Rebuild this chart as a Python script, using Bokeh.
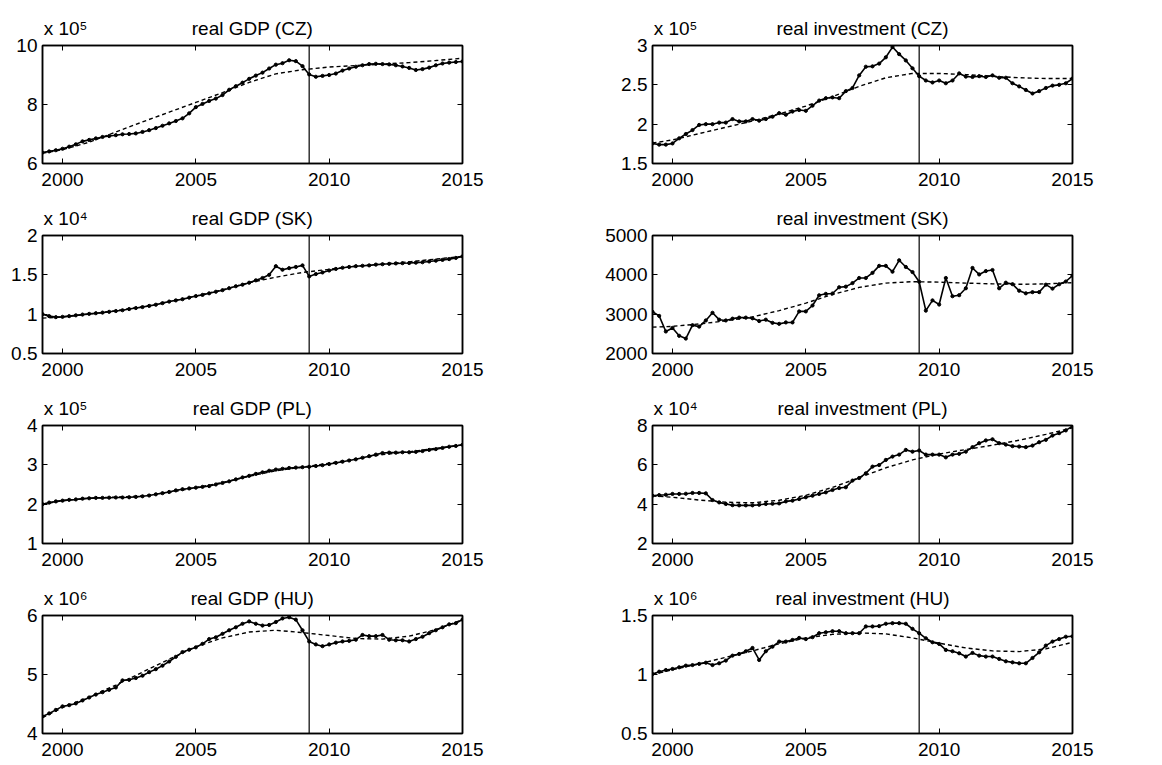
from bokeh.plotting import figure
from bokeh.layouts import column, row
from bokeh.models import (Span, LinearAxis, FixedTicker, Range1d,
                          CustomJSTickFormatter)
from bokeh.embed import file_html
from bokeh.resources import INLINE

FONT = "Liberation Sans"

# quarterly dates 1999Q2 .. 2015Q1
quarters = [1999.25 + 0.25 * i for i in range(64)]
# dates at which the dashed trend lines are read
trend_years = [1999.25, 2000, 2001, 2002, 2003, 2004, 2005, 2006, 2007, 2008,
               2009, 2010, 2011, 2012, 2013, 2014, 2015]
x_ticks = [2000, 2005, 2010, 2015]
break_date = 2009.25

titles = ["real GDP (CZ)", "real investment (CZ)",
          "real GDP (SK)", "real investment (SK)",
          "real GDP (PL)", "real investment (PL)",
          "real GDP (HU)", "real investment (HU)"]

# values in the displayed units (multiplied by 10^exponent)
gdp_cz = [6.37, 6.41, 6.45,
          6.50, 6.57, 6.65, 6.75,
          6.80, 6.85, 6.90, 6.93,
          6.96, 6.99, 7.00, 7.02,
          7.07, 7.13, 7.20, 7.28,
          7.36, 7.44, 7.53, 7.70,
          7.91, 8.02, 8.12, 8.20,
          8.32, 8.50, 8.62, 8.74,
          8.87, 8.98, 9.08, 9.22,
          9.35, 9.40, 9.50, 9.47,
          9.30, 9.02, 8.94, 8.97,
          9.00, 9.05, 9.15, 9.22,
          9.28, 9.33, 9.37, 9.38,
          9.37, 9.36, 9.33, 9.29,
          9.24, 9.17, 9.20, 9.25,
          9.33, 9.39, 9.42, 9.44,
          9.46]
gdp_cz_trend = [6.35, 6.47, 6.72, 7.07, 7.41, 7.74, 8.07, 8.40, 8.75, 9.04,
                9.18, 9.27, 9.32, 9.37, 9.42, 9.49, 9.57]

inv_cz = [1.755, 1.74, 1.74,
          1.755, 1.82, 1.875, 1.925,
          1.99, 2.0, 2.0, 2.02,
          2.02, 2.065, 2.035, 2.035,
          2.065, 2.045, 2.065, 2.095,
          2.14, 2.12, 2.16, 2.18,
          2.17, 2.235, 2.3, 2.33,
          2.34, 2.33, 2.42, 2.46,
          2.62, 2.73, 2.735, 2.77,
          2.85, 2.98, 2.89, 2.81,
          2.71, 2.61, 2.555, 2.53,
          2.555, 2.52, 2.555, 2.645,
          2.605, 2.6, 2.61, 2.6,
          2.62, 2.59, 2.59, 2.52,
          2.48, 2.435, 2.39, 2.42,
          2.46, 2.49, 2.5, 2.52,
          2.58]
inv_cz_trend = [1.76, 1.80, 1.88, 1.96, 2.04, 2.13, 2.23, 2.35, 2.48, 2.59,
                2.645, 2.645, 2.63, 2.61, 2.59, 2.58, 2.58]

gdp_sk = [1.0, 0.975, 0.962,
          0.966, 0.975, 0.985, 0.995,
          1.004, 1.012, 1.02, 1.03,
          1.04, 1.05, 1.065, 1.078,
          1.09, 1.105, 1.12, 1.14,
          1.16, 1.175, 1.19, 1.21,
          1.23, 1.245, 1.265, 1.285,
          1.305, 1.33, 1.355, 1.375,
          1.40, 1.43, 1.46, 1.50,
          1.61, 1.565, 1.585, 1.60,
          1.62, 1.48, 1.51, 1.53,
          1.555, 1.575, 1.59, 1.60,
          1.61, 1.615, 1.62, 1.63,
          1.635, 1.64, 1.645, 1.648,
          1.65, 1.655, 1.66, 1.67,
          1.68, 1.69, 1.70, 1.715,
          1.735]
gdp_sk_trend = [0.95, 0.965, 1.0, 1.045, 1.095, 1.16, 1.23, 1.31, 1.40, 1.47,
                1.53, 1.57, 1.61, 1.64, 1.665, 1.70, 1.735]

inv_sk = [3060, 2956, 2560,
          2650, 2450, 2380, 2720,
          2684, 2840, 3035, 2860,
          2840, 2886, 2912, 2912,
          2895, 2825, 2860, 2780,
          2754, 2790, 2790, 3070,
          3070, 3220, 3480, 3517,
          3526, 3684, 3700, 3790,
          3920, 3920, 4050, 4228,
          4228, 4080, 4370, 4200,
          4070, 3825, 3090, 3350,
          3245, 3920, 3456, 3482,
          3658, 4175, 4010, 4096,
          4123, 3658, 3800, 3763,
          3596, 3530, 3560, 3560,
          3750, 3650, 3760, 3830,
          3980]
inv_sk_trend = [2670, 2690, 2750, 2830, 2930, 3090, 3280, 3500, 3680, 3790,
                3825, 3815, 3790, 3770, 3760, 3770, 3800]

gdp_pl = [2.0, 2.04, 2.07,
          2.09, 2.11, 2.12, 2.14,
          2.15, 2.16, 2.16, 2.165,
          2.17, 2.17, 2.175, 2.185,
          2.2, 2.22, 2.25, 2.28,
          2.31, 2.35, 2.38, 2.4,
          2.42, 2.44, 2.46, 2.5,
          2.54, 2.58, 2.63, 2.68,
          2.72, 2.77, 2.81, 2.85,
          2.88, 2.9, 2.92, 2.93,
          2.94, 2.95, 2.97, 2.99,
          3.02, 3.05, 3.08, 3.11,
          3.14, 3.18, 3.22, 3.26,
          3.30, 3.31, 3.31, 3.32,
          3.32, 3.33, 3.35, 3.38,
          3.40, 3.43, 3.46, 3.48,
          3.51]
gdp_pl_trend = [2.0, 2.09, 2.15, 2.18, 2.21, 2.3, 2.42, 2.55, 2.71, 2.85,
                2.94, 3.04, 3.15, 3.26, 3.33, 3.42, 3.51]

inv_pl = [4.43, 4.46, 4.48,
          4.52, 4.52, 4.53, 4.57,
          4.57, 4.55, 4.21, 4.09,
          4.01, 3.95, 3.94, 3.94,
          3.94, 3.97, 4.01, 4.02,
          4.04, 4.14, 4.18, 4.26,
          4.35, 4.43, 4.52, 4.6,
          4.72, 4.82, 4.86, 5.2,
          5.33, 5.57, 5.91, 5.99,
          6.25, 6.42, 6.52, 6.76,
          6.67, 6.73, 6.52, 6.52,
          6.52, 6.38, 6.52, 6.56,
          6.67, 6.9, 7.1, 7.24,
          7.3, 7.1, 7.03, 6.95,
          6.93, 6.9, 6.98, 7.15,
          7.27, 7.49, 7.61, 7.75,
          7.97]
inv_pl_trend = [4.42, 4.35, 4.21, 4.1, 4.07, 4.2, 4.45, 4.85, 5.35, 5.85,
                6.25, 6.55, 6.78, 7.0, 7.25, 7.55, 7.88]

gdp_hu = [4.29, 4.34, 4.40,
          4.46, 4.48, 4.51, 4.56,
          4.61, 4.66, 4.70, 4.74,
          4.78, 4.90, 4.91, 4.94,
          4.98, 5.04, 5.09, 5.15,
          5.22, 5.30, 5.38, 5.42,
          5.46, 5.52, 5.60, 5.63,
          5.69, 5.75, 5.80, 5.86,
          5.90, 5.86, 5.83, 5.84,
          5.89, 5.95, 5.97, 5.93,
          5.75, 5.56, 5.51, 5.48,
          5.51, 5.54, 5.56, 5.57,
          5.59, 5.67, 5.65, 5.65,
          5.67, 5.59, 5.58, 5.58,
          5.56, 5.60, 5.64, 5.70,
          5.75, 5.80, 5.85, 5.87,
          5.93]
gdp_hu_trend = [4.27, 4.44, 4.62, 4.82, 5.04, 5.26, 5.47, 5.62, 5.72, 5.75,
                5.71, 5.66, 5.61, 5.60, 5.65, 5.76, 5.93]

inv_hu = [1.004, 1.024, 1.038,
          1.047, 1.061, 1.075, 1.08,
          1.09, 1.10, 1.08, 1.095,
          1.118, 1.16, 1.174, 1.197,
          1.225, 1.123, 1.197, 1.236,
          1.279, 1.279, 1.293, 1.31,
          1.30, 1.316, 1.35, 1.358,
          1.367, 1.367, 1.35, 1.35,
          1.35, 1.407, 1.407, 1.41,
          1.43, 1.435, 1.435, 1.43,
          1.387, 1.35, 1.307, 1.273,
          1.259, 1.208, 1.197, 1.18,
          1.152, 1.183, 1.16, 1.152,
          1.152, 1.132, 1.112, 1.103,
          1.095, 1.095, 1.14, 1.188,
          1.245, 1.279, 1.30, 1.32,
          1.324]
inv_hu_trend = [1.0, 1.04, 1.09, 1.146, 1.2, 1.26, 1.31, 1.34, 1.352, 1.344,
                1.31, 1.265, 1.225, 1.2, 1.194, 1.217, 1.273]

y_limits = [(6, 10), (1.5, 3), (0.5, 2), (2000, 5000),
            (1, 4), (2, 8), (4, 6), (0.5, 1.5)]
y_ticks = [[6, 8, 10], [1.5, 2, 2.5, 3], [0.5, 1, 1.5, 2], [2000, 3000, 4000, 5000],
           [1, 2, 3, 4], [2, 4, 6, 8], [4, 5, 6], [0.5, 1, 1.5]]
multipliers = ["x 10\u2075", "x 10\u2075", "x 10\u2074", None,
               "x 10\u2075", "x 10\u2074", "x 10\u2076", "x 10\u2076"]
actual_series = [gdp_cz, inv_cz, gdp_sk, inv_sk, gdp_pl, inv_pl, gdp_hu, inv_hu]
trend_series = [gdp_cz_trend, inv_cz_trend, gdp_sk_trend, inv_sk_trend,
                gdp_pl_trend, inv_pl_trend, gdp_hu_trend, inv_hu_trend]

FS = "19px"
LW = 1.5


def style(ax, show_labels, standoff):
    ax.major_tick_in = 5
    ax.major_tick_out = 0
    ax.minor_tick_line_color = None
    ax.axis_line_color = "black"
    ax.axis_line_width = LW
    ax.major_tick_line_color = "black"
    ax.major_tick_line_width = 1
    ax.major_label_text_font = FONT
    ax.major_label_text_color = "black"
    ax.major_label_standoff = standoff
    if show_labels:
        ax.major_label_text_font_size = FS
        ax.formatter = CustomJSTickFormatter(code="return String(tick);")
    else:
        ax.major_label_text_font_size = "0px"
        ax.formatter = CustomJSTickFormatter(code="return '';")


def make_panel(i):
    col = i % 2
    r = i // 2
    lo, hi = y_limits[i]
    x0, x1 = quarters[0], trend_years[-1]
    p = figure(title=None, frame_width=420, frame_height=118,
               x_range=Range1d(x0, x1), y_range=Range1d(lo, hi),
               output_backend="svg", toolbar_location=None,
               min_border_left=42 if col == 0 else 56,
               min_border_right=134 if col == 0 else 40,
               min_border_top=45 if r == 0 else 37,
               min_border_bottom=30 if r == 3 else 35,
               background_fill_color="white", border_fill_color="white")
    p.grid.visible = False
    p.outline_line_color = "black"
    p.outline_line_width = LW

    xa = p.xaxis[0]
    xa.ticker = FixedTicker(ticks=x_ticks)
    style(xa, True, 9)
    ya = p.yaxis[0]
    ya.ticker = FixedTicker(ticks=y_ticks[i])
    style(ya, True, 5)

    top = LinearAxis(ticker=FixedTicker(ticks=x_ticks))
    style(top, False, 0)
    p.add_layout(top, "above")
    right = LinearAxis(ticker=FixedTicker(ticks=y_ticks[i]))
    style(right, False, 0)
    p.add_layout(right, "right")

    # header row: title centred over the panel, multiplier at the left edge
    x_mid = (x0 + x1) / 2
    x_mult = x0 + 0.055 * (x1 - x0)
    head_ticks = [x_mid] if multipliers[i] is None else [x_mult, x_mid]
    head = LinearAxis(
        ticker=FixedTicker(ticks=head_ticks),
        formatter=CustomJSTickFormatter(
            args=dict(xm=x_mid, title=titles[i], mult=multipliers[i] or ""),
            code="return Math.abs(tick - xm) < 1e-9 ? title : mult;"))
    head.axis_line_color = None
    head.major_tick_line_color = None
    head.minor_tick_line_color = None
    head.major_tick_in = 0
    head.major_tick_out = 0
    head.major_label_standoff = 7
    head.major_label_text_font = FONT
    head.major_label_text_font_size = FS
    head.major_label_text_color = "black"
    p.add_layout(head, "above")

    p.line(trend_years, trend_series[i], line_color="black", line_width=1.4,
           line_dash="4 3")
    p.line(quarters, actual_series[i], line_color="black", line_width=1.6)
    p.scatter(quarters, actual_series[i], marker="circle", size=3.2,
              fill_color="black", line_color="black")

    p.add_layout(Span(location=break_date, dimension="height",
                      line_color="black", line_width=1.2))
    return p


panels = [make_panel(i) for i in range(8)]
layout = column(*[row(panels[2 * r], panels[2 * r + 1]) for r in range(4)])

open("out.html", "w").write(file_html(layout, INLINE))
